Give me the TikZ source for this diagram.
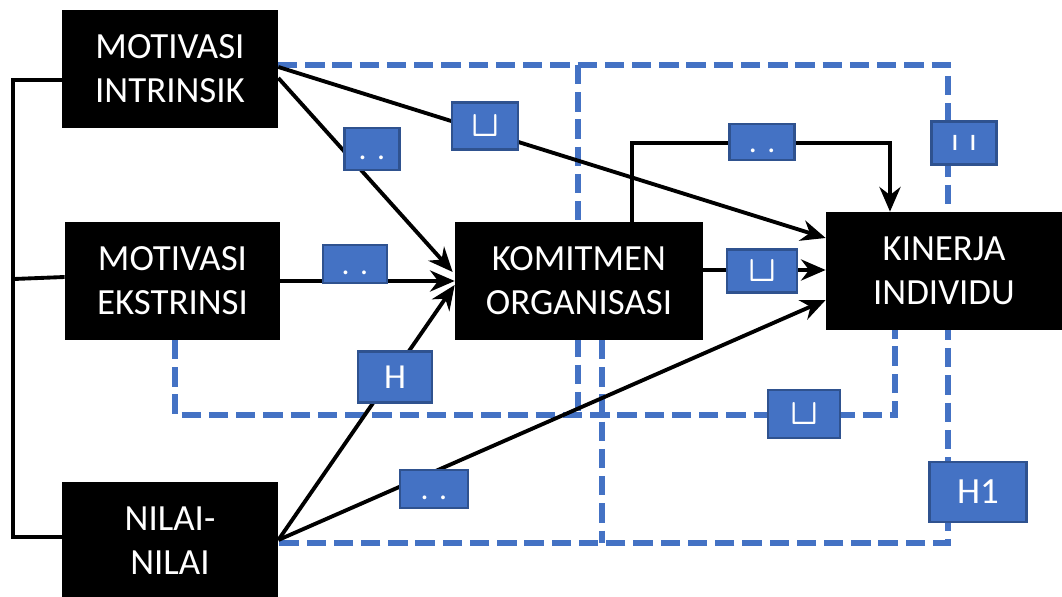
\documentclass[tikz,border=0pt]{standalone}
\usepackage{amsmath}
\usepackage{fontspec}
\setmainfont{Carlito}
\usetikzlibrary{arrows.meta,calc,backgrounds}
\definecolor{hblue}{HTML}{4472C4}
\definecolor{hedge}{HTML}{2F528F}

\tikzset{
  var/.style={fill=black, text=white, align=center, inner sep=0pt,
    minimum height=2.36cm, font=\fontsize{21}{25}\selectfont},
  hyp/.style={fill=hblue, draw=hedge, line width=1.4pt, text=white, inner sep=0pt,
    font=\fontsize{18}{20}\selectfont},
  cup/.style={font=\fontsize{22}{24}\selectfont},
  path/.style={line width=2.2pt, -{Stealth[length=14pt,width=12pt]}},
  link/.style={line width=2.2pt},
  group/.style={hblue, line width=3.2pt, dash pattern=on 11pt off 4.5pt},
}

\begin{document}
\begin{tikzpicture}[x=0.02cm, y=-0.02cm]
\useasboundingbox (0,0) rectangle (1062,597);

    % variables
    \node[var, minimum width=4.32cm] (intr) at (170,69) {MOTIVASI\\INTRINSIK};
    \node[var, minimum width=4.30cm] (ekst) at (172.5,281) {MOTIVASI\\EKSTRINSI};
    \node[var, minimum width=4.32cm] (nilai) at (170,541) {NILAI-\\NILAI};
    \node[var, minimum width=4.96cm] (kom) at (579,281) {KOMITMEN\\ORGANISASI};
    \node[var, minimum width=4.72cm] (kin) at (944,271) {KINERJA\\INDIVIDU};

    % left bracket
    \coordinate (bt) at (13,80);
    \coordinate (bb) at (13,537);
    \coordinate (bm) at (14,279);

    \begin{scope}[on background layer]
    % dashed groups
    \draw[group] (278,65) -- (948,65) -- (948,543) -- (278,543);
    \draw[group] (578,65) -- (578,415);
    \draw[group] (602,340) -- (602,543);
    \draw[group] (175,340) -- (175,415) -- (895,415) -- (895,330);

    \draw[link] ($(intr.west)+(0,11)$) -- (bt) -- (bb) -- (nilai.west |- bb);
    \draw[link] ($(ekst.west)+(0,-4)$) -- (bm);

    % paths
    \draw[path] ($(intr.east)+(0,9)$) -- ($(kom.west)+(-2,-9)$);
    \draw[path] ($(intr.east)+(0,-2)$) -- ($(kin.west)+(0,-33)$);
    \draw[path] (ekst.east) -- (kom.west);
    \draw[path] ($(nilai.east)+(0,-1)$) -- ($(kom.west)+(0,4)$);
    \draw[path] ($(nilai.east)+(0,-1)$) -- ($(kin.west)+(0,29)$);
    \draw[path] ($(kom.east)+(0,-11)$) -- ($(kin.west)+(0,-1)$);
    \draw[path] ($(kom.north)+(53,0)$) -- ++(0,-79) -| ($(kin.north)+(-54,0)$);
    \end{scope}

    % hypothesis labels
    \node[hyp, minimum width=1.10cm, minimum height=0.84cm] (h1) at (372,149) {\vphantom{H}.\,\,.};
    \node[hyp, cup, minimum width=1.32cm, minimum height=0.94cm] (h2) at (485,126) {$\boldsymbol{\sqcup}$};
    \node[hyp, minimum width=1.30cm, minimum height=0.72cm] (h3) at (762,142) {\vphantom{H}.\,\,.};
    \node[hyp, minimum width=1.30cm, minimum height=0.86cm] (h4) at (964,143) {ı\,\,ı};
    \node[hyp, minimum width=1.28cm, minimum height=0.76cm] (h5) at (355,264) {\vphantom{H}.\,\,.};
    \node[hyp, cup, minimum width=1.40cm, minimum height=0.86cm] (h6) at (762,271) {$\boldsymbol{\sqcup}$};
    \node[hyp, minimum width=1.48cm, minimum height=1.02cm] (h7) at (395,377) {\fontsize{20}{22}\selectfont H};
    \node[hyp, cup, minimum width=1.44cm, minimum height=0.96cm] (h8) at (804,414) {$\boldsymbol{\sqcup}$};
    \node[hyp, minimum width=1.36cm, minimum height=0.76cm] (h9) at (434,489) {\vphantom{H}.\,\,.};
    \node[hyp, minimum width=1.94cm, minimum height=1.20cm, font=\fontsize{21}{24}\selectfont] (h10) at (978,492) {H1};
\end{tikzpicture}
\end{document}
